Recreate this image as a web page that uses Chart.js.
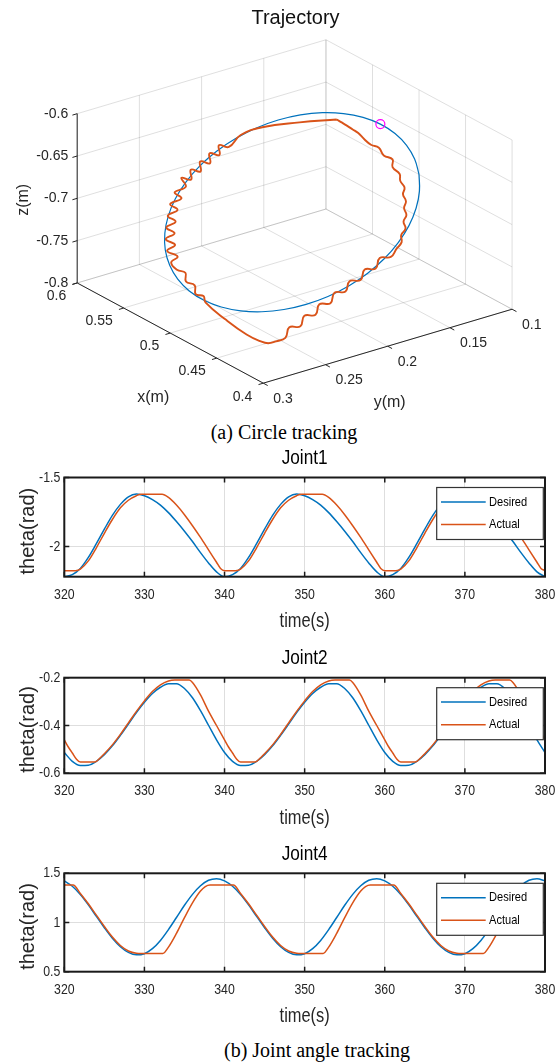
<!DOCTYPE html>
<html>
<head>
<meta charset="utf-8">
<script src="https://cdn.jsdelivr.net/npm/chart.js@4.4.1/dist/chart.umd.min.js"></script>
<style>
  html, body { margin:0; padding:0; background:#ffffff; }
  body { position:relative; width:555px; height:1062px; overflow:hidden; }
  canvas { position:absolute; left:0; }
  .cap { position:absolute; width:400px; text-align:center; font-family:'Liberation Serif','Times New Roman',serif; font-size:20px; line-height:24px; color:#000; white-space:nowrap; }
</style>
</head>
<body>
<canvas id="traj" width="555" height="420" style="top:0px;width:555px;height:420px"></canvas>
<div class="cap" style="left:84px;top:420px">(a) Circle tracking</div>
<canvas id="joint1" width="555" height="195" style="top:445px;width:555px;height:195px"></canvas>
<canvas id="joint2" width="555" height="195" style="top:645px;width:555px;height:195px"></canvas>
<canvas id="joint4" width="555" height="195" style="top:840px;width:555px;height:195px"></canvas>
<div class="cap" style="left:117px;top:1038px">(b) Joint angle tracking</div>
<script>
// ================= DATA =================
// --- 3D trajectory (metres) ---
const circleX = [0.5,0.5026,0.5051,0.5075,0.5096,0.5115,0.5130,0.5141,0.5148,0.5150,0.5148,0.5141,0.5130,0.5115,0.5096,0.5075,0.5051,0.5026,0.5,0.4974,0.4949,0.4925,0.4904,0.4885,0.4870,0.4859,0.4852,0.4850,0.4852,0.4859,0.4870,0.4885,0.4904,0.4925,0.4949,0.4974,0.5];
const circleY = [0.1,0.1016,0.1062,0.1137,0.1239,0.1364,0.1510,0.1671,0.1843,0.2020,0.2197,0.2369,0.2530,0.2676,0.2801,0.2903,0.2978,0.3024,0.3040,0.3024,0.2978,0.2903,0.2801,0.2676,0.2530,0.2369,0.2197,0.2020,0.1843,0.1671,0.1510,0.1364,0.1239,0.1137,0.1062,0.1016,0.1];
const circleZ = [-0.7,-0.6826,-0.6658,-0.65,-0.6357,-0.6234,-0.6134,-0.6060,-0.6015,-0.6,-0.6015,-0.6060,-0.6134,-0.6234,-0.6357,-0.65,-0.6658,-0.6826,-0.7,-0.7174,-0.7342,-0.75,-0.7643,-0.7766,-0.7866,-0.7940,-0.7985,-0.8,-0.7985,-0.7940,-0.7866,-0.7766,-0.7643,-0.75,-0.7342,-0.7174,-0.7];

const actualX = [0.5124,0.5136,0.5146,0.5144,0.5131,0.5138,0.5123,0.5130,0.5114,0.5122,0.5106,0.5113,0.5098,0.5105,0.5089,0.5085,0.5073,0.5069,0.5057,0.5052,0.5039,0.5034,0.5022,0.5017,0.5003,0.4998,0.4984,0.4978,0.4964,0.4955,0.4941,0.4931,0.4917,0.4910,0.4900,0.4863,0.4831,0.4814,0.4807,0.4806,0.4807,0.4822,0.4818,0.4833,0.4829,0.4844,0.4841,0.4855,0.4852,0.4866,0.4863,0.4877,0.4874,0.4888,0.4885,0.4895,0.4902,0.4914,0.4922,0.4934,0.4943,0.4955,0.4964,0.4977,0.4986,0.4999,0.5009,0.5024,0.5036,0.5046,0.5060,0.5069,0.5081,0.5093,0.5101,0.5110,0.5117,0.5124];
const actualY = [0.1569,0.1859,0.2151,0.2326,0.2431,0.2505,0.2513,0.2587,0.2595,0.2668,0.2677,0.2750,0.2759,0.2832,0.2808,0.2901,0.2855,0.2949,0.2899,0.2981,0.2928,0.3006,0.2949,0.3023,0.2959,0.3026,0.2953,0.3009,0.2973,0.2912,0.2918,0.2855,0.2858,0.2800,0.2792,0.2654,0.2513,0.2415,0.2357,0.2295,0.2219,0.2176,0.2090,0.2047,0.1960,0.1918,0.1831,0.1788,0.1702,0.1659,0.1573,0.1529,0.1443,0.1400,0.1313,0.1260,0.1213,0.1208,0.1167,0.1174,0.1144,0.1154,0.1132,0.1146,0.1127,0.1152,0.1149,0.1195,0.1186,0.1249,0.1278,0.1335,0.1381,0.1419,0.1460,0.1501,0.1535,0.1569];
const actualZ = [-0.6175,-0.6090,-0.6026,-0.6040,-0.6127,-0.6078,-0.6182,-0.6134,-0.6238,-0.6190,-0.6294,-0.6246,-0.6350,-0.6302,-0.6406,-0.6432,-0.6514,-0.6540,-0.6623,-0.6654,-0.6738,-0.6770,-0.6856,-0.6890,-0.6979,-0.7016,-0.7108,-0.7149,-0.7243,-0.7299,-0.7391,-0.7459,-0.7553,-0.7597,-0.7669,-0.7914,-0.8129,-0.8242,-0.8287,-0.8291,-0.8284,-0.8187,-0.8210,-0.8114,-0.8137,-0.8041,-0.8063,-0.7967,-0.7989,-0.7893,-0.7916,-0.7820,-0.7843,-0.7746,-0.7769,-0.7703,-0.7648,-0.7575,-0.7519,-0.7442,-0.7381,-0.7302,-0.7238,-0.7157,-0.7092,-0.7007,-0.6935,-0.6842,-0.6761,-0.6694,-0.6598,-0.6543,-0.6462,-0.6383,-0.6324,-0.6266,-0.6220,-0.6175];

const startPoint = [0.5096, 0.1239, -0.6357];

const xTicks3 = [0.4, 0.45, 0.5, 0.55, 0.6];
const yTicks3 = [0.1, 0.15, 0.2, 0.25, 0.3];
const zTicks3 = [-0.8, -0.75, -0.7, -0.65, -0.6];

// --- Joint angle tracking ---
const timeTicks = [320, 330, 340, 350, 360, 370, 380];
const timeDesired = [320,321,322,323,324,325,326,327,328,329,330,331,332,333,334,335,336,337,338,339,340,341,342,343,344,345,346,347,348,349,350,351,352,353,354,355,356,357,358,359,360,361,362,363,364,365,366,367,368,369,370,371,372,373,374,375,376,377,378,379,380];

const joint1Desired = [-2.22,-2.205,-2.16,-2.08,-1.98,-1.875,-1.775,-1.695,-1.64,-1.62,-1.632,-1.66,-1.70,-1.755,-1.82,-1.89,-1.965,-2.045,-2.12,-2.185,
  -2.22,-2.205,-2.16,-2.08,-1.98,-1.875,-1.775,-1.695,-1.64,-1.62,-1.632,-1.66,-1.70,-1.755,-1.82,-1.89,-1.965,-2.045,-2.12,-2.185,
  -2.22,-2.205,-2.16,-2.08,-1.98,-1.875,-1.775,-1.695,-1.64,-1.62,-1.632,-1.66,-1.70,-1.755,-1.82,-1.89,-1.965,-2.045,-2.12,-2.185,-2.22];
const joint1ActualT = [320,321.4,322,323,324,325,326,327,328,329,329.6,332.2,333,334,335,336,337,338,339,339.5,
  340,341.4,342,343,344,345,346,347,348,349,349.6,352.2,353,354,355,356,357,358,359,359.5,
  360,361.4,362,363,364,365,366,367,368,369,369.6,372.2,373,374,375,376,377,378,379,379.5,380];
const joint1Actual = [-2.176,-2.176,-2.165,-2.105,-2.01,-1.905,-1.805,-1.72,-1.665,-1.632,-1.622,-1.622,-1.645,-1.70,-1.77,-1.85,-1.935,-2.025,-2.115,-2.16,
  -2.176,-2.176,-2.165,-2.105,-2.01,-1.905,-1.805,-1.72,-1.665,-1.632,-1.622,-1.622,-1.645,-1.70,-1.77,-1.85,-1.935,-2.025,-2.115,-2.16,
  -2.176,-2.176,-2.165,-2.105,-2.01,-1.905,-1.805,-1.72,-1.665,-1.632,-1.622,-1.622,-1.645,-1.70,-1.77,-1.85,-1.935,-2.025,-2.115,-2.16,-2.176];
const joint1Ticks = [-2, -1.5];

const joint2Desired = [-0.513,-0.550,-0.567,-0.566,-0.550,-0.522,-0.485,-0.441,-0.394,-0.346,-0.303,-0.266,-0.240,-0.225,-0.225,-0.245,-0.284,-0.338,-0.399,-0.460,
  -0.513,-0.550,-0.567,-0.566,-0.550,-0.522,-0.485,-0.441,-0.394,-0.346,-0.303,-0.266,-0.240,-0.225,-0.225,-0.245,-0.284,-0.338,-0.399,-0.460,
  -0.513,-0.550,-0.567,-0.566,-0.550,-0.522,-0.485,-0.441,-0.394,-0.346,-0.303,-0.266,-0.240,-0.225,-0.225,-0.245,-0.284,-0.338,-0.399,-0.460,-0.513];
const joint2ActualT = [320,320.5,321,321.5,322,323.8,324.5,325,326,327,328,329,330,331,332,333,333.8,335.6,336,337,338,339,
  340,340.5,341,341.5,342,343.8,344.5,345,346,347,348,349,350,351,352,353,353.8,355.6,356,357,358,359,
  360,360.5,361,361.5,362,363.8,364.5,365,366,367,368,369,370,371,372,373,373.8,375.6,376,377,378,379,380];
const joint2Actual = [-0.46,-0.49,-0.515,-0.54,-0.553,-0.553,-0.535,-0.518,-0.481,-0.437,-0.389,-0.341,-0.297,-0.258,-0.230,-0.214,-0.21,-0.21,-0.22,-0.272,-0.34,-0.40,
  -0.46,-0.49,-0.515,-0.54,-0.553,-0.553,-0.535,-0.518,-0.481,-0.437,-0.389,-0.341,-0.297,-0.258,-0.230,-0.214,-0.21,-0.21,-0.22,-0.272,-0.34,-0.40,
  -0.46,-0.49,-0.515,-0.54,-0.553,-0.553,-0.535,-0.518,-0.481,-0.437,-0.389,-0.341,-0.297,-0.258,-0.230,-0.214,-0.21,-0.21,-0.22,-0.272,-0.34,-0.40,-0.46];
const joint2Ticks = [-0.6, -0.4, -0.2];

const joint4Desired = [1.423,1.368,1.284,1.179,1.063,0.947,0.840,0.754,0.696,0.671,0.683,0.734,0.818,0.928,1.051,1.175,1.286,1.373,1.429,1.445,
  1.423,1.368,1.284,1.179,1.063,0.947,0.840,0.754,0.696,0.671,0.683,0.734,0.818,0.928,1.051,1.175,1.286,1.373,1.429,1.445,
  1.423,1.368,1.284,1.179,1.063,0.947,0.840,0.754,0.696,0.671,0.683,0.734,0.818,0.928,1.051,1.175,1.286,1.373,1.429,1.445,1.423];
const joint4ActualT = [320,321.1,322,323,324,325,326,327,328,329,329.6,332.3,333,334,335,336,337,337.6,338.2,
  340,341.1,342,343,344,345,346,347,348,349,349.6,352.3,353,354,355,356,357,357.6,358.2,
  360,361.1,362,363,364,365,366,367,368,369,369.6,372.3,373,374,375,376,377,377.6,378.2,380];
const joint4Actual = [1.38,1.38,1.295,1.19,1.075,0.96,0.852,0.766,0.71,0.688,0.686,0.686,0.75,0.89,1.05,1.2,1.32,1.365,1.38,
  1.38,1.38,1.295,1.19,1.075,0.96,0.852,0.766,0.71,0.688,0.686,0.686,0.75,0.89,1.05,1.2,1.32,1.365,1.38,
  1.38,1.38,1.295,1.19,1.075,0.96,0.852,0.766,0.71,0.688,0.686,0.686,0.75,0.89,1.05,1.2,1.32,1.365,1.38,1.38];
const joint4Ticks = [0.5, 1, 1.5];

// ================= STYLE =================
const BLUE = '#0072BD';
const ORANGE = '#D95319';
const FONT = '"Liberation Sans", Arial, Helvetica, sans-serif';
const TXT = '#262626';

function drawText(ctx, s, x, y, size, align, o) {
  o = o || {};
  ctx.save();
  ctx.translate(x, y);
  if (o.rot) ctx.rotate(o.rot);
  ctx.scale(o.sx || 1, 1);
  ctx.font = size + 'px ' + FONT;
  ctx.fillStyle = o.color || TXT;
  ctx.textAlign = align;
  ctx.textBaseline = 'middle';
  ctx.fillText(s, 0, 0);
  ctx.restore();
}

// ================= 3D TRAJECTORY =================
const LIM = { x: [0.4, 0.6], y: [0.1, 0.3], z: [-0.8, -0.6] };
// screen displacement for a full axis span (view of the box)
const VIEW = { o: [73, 285], ex: [190, 103], ey: [254, -76], ez: [0, -174] };
function proj(x, y, z) {
  const fx = (LIM.x[1] - x) / (LIM.x[1] - LIM.x[0]);
  const fy = (LIM.y[1] - y) / (LIM.y[1] - LIM.y[0]);
  const fz = (z - LIM.z[0]) / (LIM.z[1] - LIM.z[0]);
  return {
    x: VIEW.o[0] + fx * VIEW.ex[0] + fy * VIEW.ey[0] + fz * VIEW.ez[0],
    y: VIEW.o[1] + fx * VIEW.ex[1] + fy * VIEW.ey[1] + fz * VIEW.ez[1]
  };
}

const box3d = {
  id: 'box3d',
  beforeDatasetsDraw(chart) {
    const ctx = chart.ctx, sx = chart.scales.x, sy = chart.scales.y;
    const P = (x, y, z) => { const p = proj(x, y, z); return [sx.getPixelForValue(p.x), sy.getPixelForValue(p.y)]; };
    const seg = (a, b) => { ctx.beginPath(); ctx.moveTo(a[0], a[1]); ctx.lineTo(b[0], b[1]); ctx.stroke(); };
    const unit = (a, b) => { const dx = b[0]-a[0], dy = b[1]-a[1], l = Math.hypot(dx, dy); return [dx/l, dy/l]; };
    const [x0, x1] = LIM.x, [y0, y1] = LIM.y, [z0, z1] = LIM.z;
    ctx.save();
    ctx.strokeStyle = 'rgba(38,38,38,0.15)';
    ctx.lineWidth = 1;
    xTicks3.forEach(v => { seg(P(v, y1, z0), P(v, y0, z0)); seg(P(v, y0, z0), P(v, y0, z1)); });
    yTicks3.forEach(v => { seg(P(x1, v, z0), P(x0, v, z0)); seg(P(x1, v, z0), P(x1, v, z1)); });
    zTicks3.forEach(v => { seg(P(x1, y1, v), P(x1, y0, v)); seg(P(x1, y0, v), P(x0, y0, v)); });
    // axis lines
    ctx.strokeStyle = '#262626';
    ctx.lineWidth = 1;
    seg(P(x1, y1, z0), P(x0, y1, z0));
    seg(P(x0, y1, z0), P(x0, y0, z0));
    seg(P(x1, y1, z0), P(x1, y1, z1));
    // tick marks
    const dY = unit(P(x1, y1, z0), P(x1, y1 + 0.01, z0));
    const dX = unit(P(x0, y1, z0), P(x0 - 0.01, y1, z0));
    const L = 5;
    zTicks3.forEach(v => { const a = P(x1, y1, v); seg(a, [a[0] + dY[0]*L, a[1] + dY[1]*L]); });
    xTicks3.forEach(v => { const a = P(v, y1, z0); seg(a, [a[0] + dY[0]*L, a[1] + dY[1]*L]); });
    yTicks3.forEach(v => { const a = P(x0, v, z0); seg(a, [a[0] + dX[0]*L, a[1] + dX[1]*L]); });
    ctx.restore();
    // tick labels
    zTicks3.forEach(v => { const a = P(x1, y1, v); drawText(ctx, String(v), a[0] - 9, a[1], 14, 'right'); });
    xTicks3.forEach(v => { const a = P(v, y1, z0); drawText(ctx, String(v), a[0] - 11, a[1] + 13.5, 14, 'right'); });
    yTicks3.forEach(v => { const a = P(x0, v, z0); drawText(ctx, String(v), a[0] + 10, a[1] + 15.5, 14, 'left'); });
    // axis titles
    const mz = P(x1, y1, (z0 + z1) / 2), mx = P((x0 + x1) / 2, y1, z0), my = P(x0, (y0 + y1) / 2, z0);
    drawText(ctx, 'z(m)', mz[0] - 54, mz[1] + 1.5, 16, 'center', { rot: -Math.PI / 2 });
    drawText(ctx, 'x(m)', mx[0] - 17, mx[1] + 64.5, 16, 'center');
    drawText(ctx, 'y(m)', my[0] + 2, my[1] + 56, 16, 'center');
    drawText(ctx, 'Trajectory', 295.5, 18, 20, 'center', { color: '#111' });
  }
};

new Chart(document.getElementById('traj'), {
  type: 'scatter',
  data: {
    datasets: [
      { label: 'Start', data: [proj(startPoint[0], startPoint[1], startPoint[2])], showLine: false,
        pointRadius: 4.5, pointStyle: 'circle', pointBackgroundColor: 'rgba(0,0,0,0)', backgroundColor: 'rgba(0,0,0,0)',
        pointBorderColor: '#FF00FF', borderColor: '#FF00FF', pointBorderWidth: 1.2, order: 0 },
      { label: 'Actual', data: actualX.map((v, i) => proj(v, actualY[i], actualZ[i])), showLine: true,
        borderColor: ORANGE, backgroundColor: ORANGE, borderWidth: 1.9, pointRadius: 0, tension: 0.45, order: 1 },
      { label: 'Desired', data: circleX.map((v, i) => proj(v, circleY[i], circleZ[i])), showLine: true,
        borderColor: BLUE, backgroundColor: BLUE, borderWidth: 1.2, pointRadius: 0, tension: 0.4, order: 2 }
    ]
  },
  options: {
    responsive: false, animation: false, devicePixelRatio: 1, events: [],
    layout: { padding: 0 },
    plugins: { legend: { display: false }, tooltip: { enabled: false } },
    scales: {
      x: { type: 'linear', min: 0, max: 555, display: false },
      y: { type: 'linear', min: 0, max: 420, reverse: true, display: false }
    }
  },
  plugins: [box3d]
});

// ================= JOINT CHARTS =================
function jointDeco(cfg) {
  return {
    id: 'deco' + cfg.id,
    afterDatasetsDraw(chart) {
      const ctx = chart.ctx, a = chart.chartArea, sx = chart.scales.x, sy = chart.scales.y;
      ctx.save();
      ctx.strokeStyle = '#1a1a1a';
      ctx.lineWidth = 1.5;
      sx.ticks.forEach(t => {
        const X = sx.getPixelForValue(t.value);
        ctx.beginPath(); ctx.moveTo(X, a.bottom); ctx.lineTo(X, a.bottom - 5); ctx.moveTo(X, a.top); ctx.lineTo(X, a.top + 5); ctx.stroke();
      });
      sy.ticks.forEach(t => {
        const Y = sy.getPixelForValue(t.value);
        ctx.beginPath(); ctx.moveTo(a.left, Y); ctx.lineTo(a.left + 5, Y); ctx.moveTo(a.right, Y); ctx.lineTo(a.right - 5, Y); ctx.stroke();
      });
      ctx.lineWidth = 2;
      ctx.strokeRect(a.left, a.top, a.right - a.left, a.bottom - a.top);
      // legend
      const bw = 106.6, bh = 52, bx = a.right - 108.3, by = a.top + 10;
      ctx.fillStyle = '#ffffff';
      ctx.fillRect(bx, by, bw, bh);
      ctx.strokeStyle = '#333333';
      ctx.lineWidth = 1.2;
      ctx.strokeRect(bx, by, bw, bh);
      ['Desired', 'Actual'].forEach((name, k) => {
        const ds = chart.data.datasets.find(d => d.label === name);
        const ly = by + 14.4 + k * 22.6;
        ctx.strokeStyle = ds.borderColor;
        ctx.lineWidth = 1.5;
        ctx.beginPath(); ctx.moveTo(bx + 4.3, ly); ctx.lineTo(bx + 49, ly); ctx.stroke();
        drawText(ctx, name, bx + 52.3, ly, 13.5, 'left', { sx: 0.82, color: '#000' });
      });
      ctx.restore();
      // tick labels
      sx.ticks.forEach(t => drawText(ctx, String(t.value), sx.getPixelForValue(t.value), a.bottom + 18, 15, 'center', { sx: 0.82 }));
      sy.ticks.forEach(t => drawText(ctx, String(t.value), a.left - 4, sy.getPixelForValue(t.value), 15, 'right', { sx: 0.82 }));
      // titles
      const cx = (a.left + a.right) / 2;
      drawText(ctx, cfg.title, cx, a.top - 19, 21, 'center', { sx: 0.82, color: '#000' });
      drawText(ctx, 'time(s)', cx, a.bottom + 45, 20, 'center', { sx: 0.82 });
      drawText(ctx, 'theta(rad)', 28.3, (a.top + a.bottom) / 2 + 4, 20, 'center', { rot: -Math.PI / 2 });
    }
  };
}

function makeJoint(cfg) {
  const el = document.getElementById(cfg.id);
  return new Chart(el, {
    type: 'scatter',
    data: {
      datasets: [
        { label: 'Actual', data: cfg.actT.map((t, i) => ({ x: t, y: cfg.act[i] })), showLine: true,
          borderColor: ORANGE, backgroundColor: ORANGE, borderWidth: 1.5, pointRadius: 0,
          cubicInterpolationMode: 'monotone', order: 0 },
        { label: 'Desired', data: timeDesired.map((t, i) => ({ x: t, y: cfg.des[i] })), showLine: true,
          borderColor: BLUE, backgroundColor: BLUE, borderWidth: 1.5, pointRadius: 0,
          cubicInterpolationMode: 'monotone', order: 1 }
      ]
    },
    options: {
      responsive: false, animation: false, devicePixelRatio: 1, events: [],
      layout: { padding: { top: cfg.areaTop - cfg.canvasTop, right: 10, left: 0, bottom: 0 } },
      plugins: { legend: { display: false }, tooltip: { enabled: false } },
      scales: {
        x: { type: 'linear', min: 320, max: 380,
             afterBuildTicks: s => { s.ticks = timeTicks.map(v => ({ value: v })); },
             afterFit: s => { s.height = cfg.canvasTop + cfg.canvasH - cfg.areaBottom; },
             grid: { color: '#dedede', lineWidth: 1, drawTicks: false },
             border: { display: false }, ticks: { display: false } },
        y: { type: 'linear', min: cfg.min, max: cfg.max,
             afterBuildTicks: s => { s.ticks = cfg.ticks.map(v => ({ value: v })); },
             afterFit: s => { s.width = 64.3; },
             grid: { color: '#dedede', lineWidth: 1, drawTicks: false },
             border: { display: false }, ticks: { display: false } }
      }
    },
    plugins: [jointDeco(cfg)]
  });
}

makeJoint({ id: 'joint1', title: 'Joint1', canvasTop: 445, canvasH: 195, areaTop: 477.5, areaBottom: 576.7,
  min: -2.22, max: -1.5, ticks: joint1Ticks, des: joint1Desired, actT: joint1ActualT, act: joint1Actual });
makeJoint({ id: 'joint2', title: 'Joint2', canvasTop: 645, canvasH: 195, areaTop: 677.7, areaBottom: 773.3,
  min: -0.6, max: -0.2, ticks: joint2Ticks, des: joint2Desired, actT: joint2ActualT, act: joint2Actual });
makeJoint({ id: 'joint4', title: 'Joint4', canvasTop: 840, canvasH: 195, areaTop: 873.3, areaBottom: 971.7,
  min: 0.5, max: 1.5, ticks: joint4Ticks, des: joint4Desired, actT: joint4ActualT, act: joint4Actual });
</script>
</body>
</html>
